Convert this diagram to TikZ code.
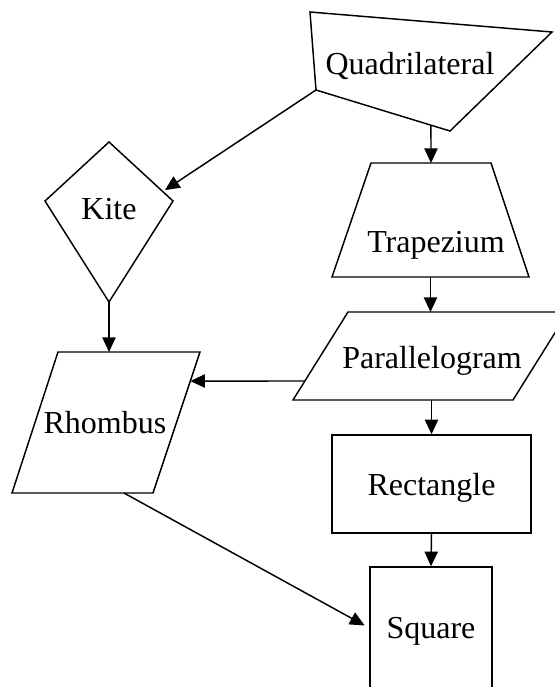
\documentclass[tikz,border=0pt]{standalone}
\usepackage{fontspec}
\setmainfont{Liberation Serif}
\usetikzlibrary{arrows.meta,calc}

\begin{document}
\begin{tikzpicture}[x=0.75pt,y=-0.75pt,>={Triangle[length=11pt,width=10pt]},
  outline/.style={draw,line width=1.1pt},
  arrow/.style={->,line width=1.1pt},
  lbl/.style={font=\fontsize{24}{28}\selectfont,anchor=base,inner sep=0pt},
  box/.style={draw,line width=1.1pt,font=\fontsize{24}{28}\selectfont,inner sep=0pt,text depth=0pt}]
\useasboundingbox (0,0) rectangle (555,687);
\clip (0,0) rectangle (555,687);

% outlines of the shapes
\draw[outline] (310,12) coordinate (qa) -- (552,32) coordinate (qb)
  -- (450,131) coordinate (qc) -- (316,90) coordinate (qd) -- cycle;
\draw[outline] (109,142) coordinate (kn) -- (173,201) coordinate (ke)
  -- (109,302) coordinate (ks) -- (45,201) coordinate (kw) -- cycle;
\draw[outline] (371,163) coordinate (ta) -- (491,163) coordinate (tb)
  -- (529,277) coordinate (tc) -- (332,277) coordinate (td) -- cycle;
\draw[outline] (348,312) coordinate (pa) -- (568,312) coordinate (pb)
  -- (513,400) coordinate (pc) -- (293,400) coordinate (pd) -- cycle;
\draw[outline] (58,352) coordinate (ra) -- (200,352) coordinate (rb)
  -- (153,493) coordinate (rc) -- (12,493) coordinate (rd) -- cycle;

% labels
\node[lbl] (quad) at (410,74) {Quadrilateral};
\node[lbl] (kite) at (109,219) {Kite};
\node[lbl] (trap) at (436,252) {Trapezium};
\node[lbl] (para) at (432,368) {Parallelogram};
\node[lbl] (rhom) at (105,433) {Rhombus};
\node[box,minimum width=149.25pt,minimum height=73.5pt] (rect) at (431.5,484) {Rectangle};
\node[box,minimum width=91.5pt,minimum height=91.5pt] (sq) at (431,628) {Square};

% connectors
\draw[arrow,shorten >=2pt] (qd) -- ($(kn)!0.84!(ke)$);
\draw[arrow] ($(qd)!0.858!(qc)$) -- ($(ta)!0.5!(tb)$);
\draw[arrow] ($(td)!0.5!(tc)$) coordinate (tbot) -- (tbot |- pa);
\draw[arrow] (rect.north |- pc) -- (rect.north);
\draw[arrow] (rect.south) -- (sq.north);
\draw[arrow] ($(pd)!0.216!(pa)$) -- ($(rb)!0.206!(rc)$);
\draw[arrow] (ks) -- (ks |- ra);
\draw[arrow,shorten >=4pt] ($(rd)!0.794!(rc)$) -- (sq.west);
\end{tikzpicture}
\end{document}
